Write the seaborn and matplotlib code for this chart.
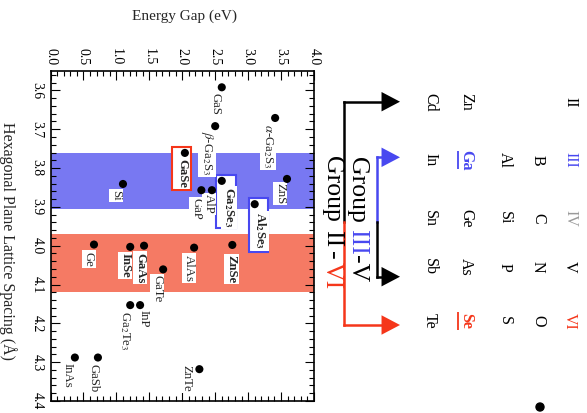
import numpy as np
import pandas as pd
import matplotlib
matplotlib.use("Agg")
import matplotlib.pyplot as plt
import matplotlib.transforms as mtransforms
from matplotlib.patches import Rectangle, Circle
import seaborn as sns

# ---- data -----------------------------------------------------------------
materials = ["GaS", "a-Ga2S3", "b-Ga2S3", "GaSe", "GaP", "AlP", "Ga2Se3",
             "Al2Se3", "ZnS", "ZnSe", "AlAs", "Si", "Ge", "InSe", "GaAs",
             "GaTe", "Ga2Te3", "InP", "InAs", "GaSb", "ZnTe"]
energy_gap = [2.60, 3.41, 2.50, 2.04, 2.29, 2.45, 2.60,
              3.10, 3.59, 2.76, 2.18, 1.10, 0.66, 1.21, 1.42,
              1.71, 1.21, 1.36, 0.37, 0.72, 2.26]
lattice_spacing = [3.592, 3.671, 3.692, 3.761, 3.857, 3.857, 3.833,
                   3.893, 3.828, 3.998, 4.005, 3.841, 3.997, 4.003, 4.000,
                   4.061, 4.153, 4.153, 4.288, 4.288, 4.318]
labels = {
    "GaS": "GaS", "a-Ga2S3": r"$\alpha$-Ga$_2$S$_3$", "b-Ga2S3": r"$\beta$-Ga$_2$S$_3$",
    "GaSe": "GaSe", "GaP": "GaP", "AlP": "AlP",
    "Ga2Se3": r"Ga$_\mathbf{2}$Se$_\mathbf{3}$", "Al2Se3": r"Al$_\mathbf{2}$Se$_\mathbf{3}$",
    "ZnS": "ZnS", "ZnSe": "ZnSe", "AlAs": "AlAs", "Si": "Si", "Ge": "Ge",
    "InSe": "InSe", "GaAs": "GaAs", "GaTe": "GaTe", "Ga2Te3": r"Ga$_2$Te$_3$",
    "InP": "InP", "InAs": "InAs", "GaSb": "GaSb", "ZnTe": "ZnTe",
}
bold_labels = {"GaSe", "Ga2Se3", "Al2Se3", "ZnSe", "InSe", "GaAs"}

group_iii_v_band = (3.76, 3.905)
group_ii_vi_band = (3.97, 4.12)

period_headers = ["II", "III", "IV", "V", "VI"]
period_rows = [["", "B", "C", "N", "O"],
               ["", "Al", "Si", "P", "S"],
               ["Zn", "Ga", "Ge", "As", "Se"],
               ["Cd", "In", "Sn", "Sb", "Te"]]

# ---- styling --------------------------------------------------------------
BLUE = "#4848f0"
RED = "#f5361a"
BLUE_FILL = "#7878f2"
RED_FILL = "#f57a64"
sns.set_theme(style="white")
plt.rcParams["font.family"] = ["Liberation Serif", "DejaVu Serif"]
plt.rcParams["mathtext.fontset"] = "stix"

W, H = 587, 413
fig = plt.figure(figsize=(W / 100, H / 100), dpi=100)
fig.patch.set_facecolor("white")
ax = fig.add_axes([50.5 / W, 1 - 401 / H, (314 - 50.5) / W, (401 - 71) / H])

df = pd.DataFrame({"material": materials, "gap": energy_gap, "spacing": lattice_spacing})

# shaded lattice-matching bands
ax.axhspan(*group_iii_v_band, facecolor=BLUE_FILL, linewidth=0, zorder=0.5)
ax.axhspan(*group_ii_vi_band, facecolor=RED_FILL, linewidth=0, zorder=0.5)

sns.scatterplot(data=df, x="gap", y="spacing", ax=ax, color="black", s=34,
                edgecolor="none", zorder=3, legend=False)

ax.set_xlim(0, 4.0)
ax.set_ylim(4.4, 3.55)

# label placement: (dx, dy) in pixels from the point, image y pointing down
label_offsets = {
    "GaS": (-6, 6), "a-Ga2S3": (-7, 6), "b-Ga2S3": (-8, 5), "GaSe": (-3, 6),
    "GaP": (-5, 8), "AlP": (-3, 4), "Ga2Se3": (7, 6), "Al2Se3": (6, 8),
    "ZnS": (-7, 4), "ZnSe": (-1, 10), "AlAs": (-5, 7), "Si": (-7, 6),
    "Ge": (-5, 7), "InSe": (-5, 6), "GaAs": (-4, 7), "GaTe": (-6, 6),
    "Ga2Te3": (-5, 6), "InP": (3, 5), "InAs": (-7, 5), "GaSb": (-4, 6),
    "ZnTe": (-13, -4),
}
# framed entries: (x0, x1, y0, y1) pixel extents around the point, colour
frames = {
    "GaSe": (-13, 6, -6, 37, RED),
    "Ga2Se3": (-6, 14, -6, 47, BLUE),
    "Al2Se3": (-6, 13, -6, 48, BLUE),
}

for m, e, l in zip(materials, energy_gap, lattice_spacing):
    dx, dy = label_offsets[m]
    ax.annotate(labels[m], xy=(e, l), xytext=(dx, -dy), textcoords="offset pixels",
                rotation=-90, ha="center", va="top", fontsize=9.2,
                fontweight="bold" if m in bold_labels else "normal",
                bbox=dict(boxstyle="square,pad=0.1", fc="white", ec="none"),
                zorder=2.2, annotation_clip=False)
    if m in frames:
        x0, x1, y0, y1, c = frames[m]
        tr = mtransforms.ScaledTranslation(e, l, ax.transData)
        ax.add_patch(Rectangle((x0, -y1), x1 - x0, y1 - y0, transform=tr,
                               facecolor="white", edgecolor=c, linewidth=1.5,
                               zorder=2.1, clip_on=False))

# axes, ticks
ax.xaxis.set_major_locator(plt.MultipleLocator(0.5))
ax.xaxis.set_minor_locator(plt.MultipleLocator(0.1))
ax.yaxis.set_major_locator(plt.MultipleLocator(0.1))
ax.yaxis.set_minor_locator(plt.MultipleLocator(0.02))
ax.xaxis.set_major_formatter(plt.FormatStrFormatter("%.1f"))
ax.yaxis.set_major_formatter(plt.FormatStrFormatter("%.1f"))
ax.tick_params(which="both", direction="in", top=True, bottom=True, left=True,
               right=True, labeltop=True, labelbottom=False, color="black",
               labelsize=10, labelcolor="black")
ax.tick_params(which="major", length=6.5, width=0.8)
ax.tick_params(which="minor", length=3.6, width=0.8)
ax.tick_params(axis="x", labelrotation=-90, pad=4)
ax.tick_params(axis="y", labelrotation=-90, pad=5)
for t in ax.get_yticklabels():
    t.set_va("center")
for s in ax.spines.values():
    s.set_visible(True)
    s.set_color("black")
    s.set_linewidth(1.2)

ax.set_xlabel("Energy Gap (eV)", fontsize=11, va="center")
ax.xaxis.set_label_position("top")
ax.xaxis.set_label_coords((184 - 50.5) / 263.5, (401 - 20) / 330)
ax.set_ylabel("Hexagonal Plane Lattice Spacing (Å)", fontsize=11.5, rotation=-90,
              va="center", ha="center")
ax.yaxis.set_label_coords((7.5 - 50.5) / 263.5, (401 - 241) / 330)

# ---- periodic-table inset and group arrows (pixel coordinates) ------------
ov = fig.add_axes([0, 0, 1, 1])
ov.set_xlim(0, W)
ov.set_ylim(H, 0)
ov.axis("off")
ov.patch.set_alpha(0)

col_y = [102, 160, 218, 267, 321]
row_x = [430, 466, 505, 538]
header_x = 570
header_colors = ["black", BLUE, "#9a9a9a", "black", RED]
for j, hdr in enumerate(period_headers):
    ov.text(header_x, col_y[j], hdr, rotation=-90, ha="center", va="center",
            fontsize=11.5, color=header_colors[j])
for i, row in enumerate(period_rows[::-1]):
    for j, sym in enumerate(row):
        if not sym:
            continue
        special = {"Ga": BLUE, "Se": RED}.get(sym)
        ov.text(row_x[i], col_y[j], sym, rotation=-90, ha="center", va="center",
                fontsize=11.5, color=special or "black",
                fontweight="bold" if special else "normal")
        if special:
            ov.plot([row_x[i] - 8, row_x[i] - 8], [col_y[j] - 9, col_y[j] + 9],
                    color=special, lw=1.3, solid_capstyle="butt")


def bracket(points, colors):
    for (p, q), c in zip(zip(points[:-1], points[1:]), colors):
        ov.plot([p[0], q[0]], [p[1], q[1]], color=c, lw=1.8,
                solid_capstyle="projecting")


def head(x_tip, y, color):
    ov.annotate("", xy=(x_tip, y), xytext=(x_tip - 14, y),
                arrowprops=dict(arrowstyle="-|>,head_length=0.95,head_width=0.5",
                                color=color, lw=0, mutation_scale=14,
                                shrinkA=0, shrinkB=0))


# Group II-VI bracket
bracket([(386, 101.7), (344.3, 101.7), (344.3, 221.7)], ["black", "black"])
bracket([(344.3, 221.7), (344.3, 325), (386, 325)], [RED, RED])
head(400, 101.7, "black")
head(400, 325, RED)
# Group III-V bracket
bracket([(386, 157.3), (376.7, 157.3), (376.7, 221.7)], [BLUE, BLUE])
bracket([(376.7, 221.7), (376.7, 276.7), (386, 276.7)], ["black", "black"])
head(400, 157.3, BLUE)
head(400, 276.7, "black")

fig.canvas.draw()
renderer = fig.canvas.get_renderer()


def text_run(x, y_top, pieces, fs):
    """Write coloured pieces one after another, reading top to bottom."""
    probe1 = ov.text(0, 0, "x x", fontsize=fs)
    probe2 = ov.text(0, 0, "xx", fontsize=fs)
    space = (probe1.get_window_extent(renderer).width
             - probe2.get_window_extent(renderer).width)
    probe1.remove()
    probe2.remove()
    y = y_top
    for s, c, gap in pieces:
        y += gap
        lead = len(s) - len(s.lstrip(" "))
        s2 = s.strip(" ")
        y += lead * space
        t = ov.text(x, y, s2, rotation=-90, ha="center", va="top", fontsize=fs,
                    color=c)
        y += t.get_window_extent(renderer).height
        y += (len(s) - len(s.rstrip(" "))) * space


text_run(357, 157, [("Group ", "black", 0), ("III", BLUE, 0), ("-V", "black", 0)], 18.5)
text_run(332, 156, [("Group ", "black", 0), ("II", "black", 2), ("-", "black", 3),
                    ("VI", RED, 3)], 18.5)

ov.add_patch(Circle((540, 407), 4, color="black"))

fig.savefig("out.png", dpi=100, facecolor="white")
